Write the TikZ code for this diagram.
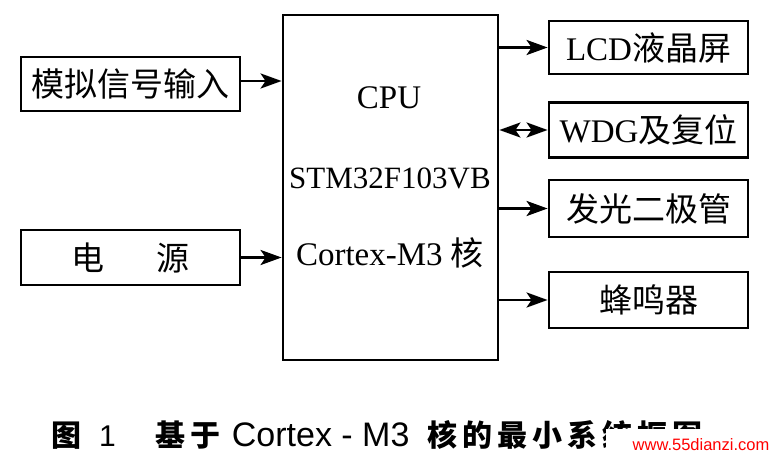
\documentclass[tikz,border=0pt]{standalone}
\usepackage{fontspec}
\setmainfont{Liberation Serif}
\newfontfamily\zhfont{Noto Sans CJK SC}
\newfontfamily\capfont{Liberation Sans}
\usetikzlibrary{arrows.meta}
\newcommand{\zh}[1]{{\zhfont #1}}
\tikzset{
  blk/.style={draw, line width=2.8pt, inner sep=0pt, font=\fontsize{33}{36}\selectfont},
  txt/.style={inner sep=0pt, font=\fontsize{33}{36}\selectfont},
  tip/.tip={Stealth[length=21pt,width=15pt,inset=5pt]},
  link/.style={line width=2.8pt, -tip},
}

\begin{document}
\begin{tikzpicture}[x=1pt, y=-1pt]
\useasboundingbox (0,0) rectangle (770,457);
\node[blk, minimum width=215pt, minimum height=345pt] (P_C) at (390.5,187.5) {};
\node[txt] (P_C_0) at (389,98) {CPU};
\node[txt, font=\fontsize{31}{34}\selectfont, fill=white] (P_C_1) at (390,178) {STM32F103VB};
\node[txt] (P_C_2) at (390,253) {Cortex-M3 \zh{核}};
\node[blk, minimum width=219pt, minimum height=54pt] (P_L_0) at (130.5,84) {\zh{模拟信号输入}};
\draw[link] (P_L_0.east) ++(0,-3) coordinate (P_L_0_o) -- (P_L_0_o -| P_C.west);
\node[blk, minimum width=219pt, minimum height=55pt] (P_L_1) at (130.5,257.5) {\zh{电\hspace{1.6em}源}};
\draw[link] (P_L_1.east) -- (P_L_1.east -| P_C.west);
\node[blk, minimum width=199pt, minimum height=53pt] (P_R_0) at (648.5,47.5) {LCD\zh{液晶屏}};
\draw[link] (P_R_0.west -| P_C.east) -- (P_R_0.west);
\node[blk, minimum width=199pt, minimum height=55pt] (P_R_1) at (648.5,130) {WDG\zh{及复位}};
\draw[link, tip-tip] (P_R_1.west -| P_C.east) -- (P_R_1.west);
\node[blk, minimum width=199pt, minimum height=57pt] (P_R_2) at (648.5,208.5) {\zh{发光二极管}};
\draw[link] (P_R_2.west -| P_C.east) -- (P_R_2.west);
\node[blk, minimum width=199pt, minimum height=56pt] (P_R_3) at (648.5,300) {\zh{蜂鸣器}};
\draw[link] (P_R_3.west -| P_C.east) -- (P_R_3.west);
% caption and watermark
\node[anchor=west, inner sep=0pt, font=\fontsize{30}{32}\selectfont] (P_cap) at (51,435)
  {{\zhfont\bfseries 图}\hspace{18pt}{\capfont 1}\hspace{40pt}{\zhfont\bfseries 基\,于}\hspace{11pt}{\capfont\fontsize{34}{36}\selectfont Cortex - M3}\hspace{18pt}{\zhfont\bfseries 核\,的\,最\,小\,系\,统\,框\,图}};
\fill[white] (606,429) rectangle (770,457);
\node[inner sep=0pt, text=red, font=\capfont\fontsize{16.5}{18}\selectfont] (P_wm) at (701,445) {www.55dianzi.com};
\end{tikzpicture}
\end{document}
